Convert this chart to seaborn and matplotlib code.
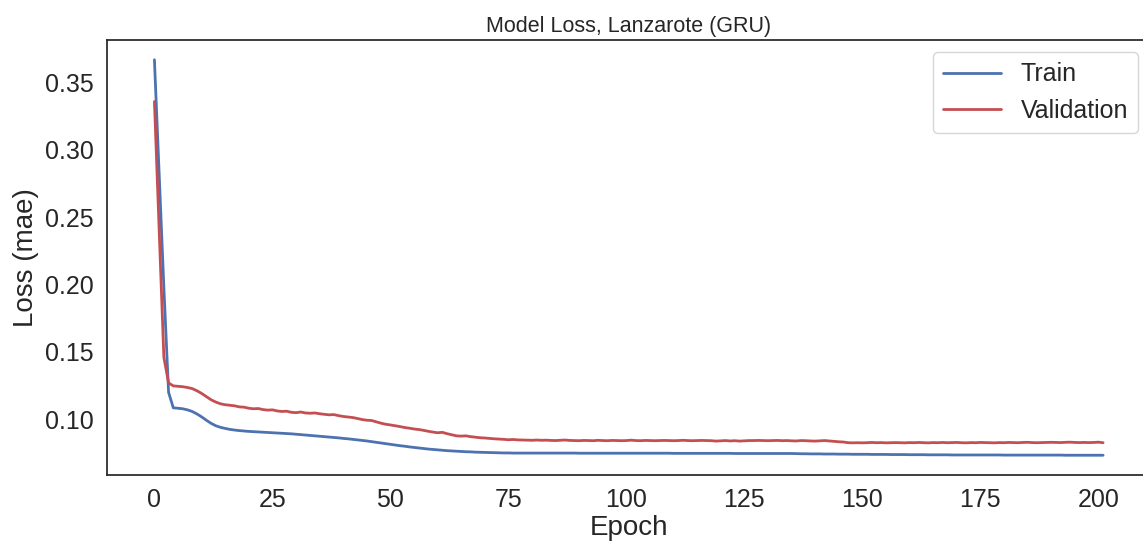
import numpy as np
import pandas as pd
import matplotlib
matplotlib.use("Agg")
import matplotlib.pyplot as plt
import seaborn as sns

# Per-epoch mean absolute error for the GRU model (Lanzarote)
train_loss = [
    0.3670, 0.2830, 0.1980, 0.1200, 0.1085, 0.1082, 0.1078, 0.1070, 0.1058, 0.1040,
    0.1018, 0.0993, 0.0970, 0.0952, 0.0940, 0.0932, 0.0925, 0.0920, 0.0916, 0.0913,
    0.0910, 0.0908, 0.0906, 0.0904, 0.0902, 0.0900, 0.0898, 0.0896, 0.0894, 0.0892,
    0.0889, 0.0886, 0.0883, 0.0880, 0.0877, 0.0874, 0.0871, 0.0868, 0.0865, 0.0862,
    0.0858, 0.0855, 0.0851, 0.0847, 0.0843, 0.0839, 0.0834, 0.0829, 0.0824, 0.0819,
    0.0814, 0.0809, 0.0804, 0.0800, 0.0795, 0.0791, 0.0787, 0.0783, 0.0779, 0.0776,
    0.0773, 0.0770, 0.0767, 0.0765, 0.0763, 0.0761, 0.0759, 0.0758, 0.0756, 0.0755,
    0.0754, 0.0753, 0.0752, 0.0751, 0.0750, 0.0750, 0.0749, 0.0749, 0.0749, 0.0749,
    0.0749, 0.0749, 0.0749, 0.0749, 0.0749, 0.0749, 0.0749, 0.0749, 0.0749, 0.0749,
    0.0748, 0.0748, 0.0748, 0.0748, 0.0748, 0.0748, 0.0748, 0.0748, 0.0748, 0.0748,
    0.0748, 0.0748, 0.0748, 0.0748, 0.0748, 0.0748, 0.0748, 0.0748, 0.0748, 0.0748,
    0.0747, 0.0747, 0.0747, 0.0747, 0.0747, 0.0747, 0.0747, 0.0747, 0.0747, 0.0747,
    0.0747, 0.0747, 0.0747, 0.0746, 0.0746, 0.0746, 0.0746, 0.0746, 0.0746, 0.0746,
    0.0746, 0.0746, 0.0746, 0.0746, 0.0746, 0.0746, 0.0745, 0.0744, 0.0744, 0.0743,
    0.0743, 0.0743, 0.0742, 0.0742, 0.0742, 0.0741, 0.0741, 0.0741, 0.0740, 0.0740,
    0.0740, 0.0740, 0.0739, 0.0739, 0.0739, 0.0739, 0.0738, 0.0738, 0.0738, 0.0738,
    0.0737, 0.0737, 0.0737, 0.0737, 0.0736, 0.0736, 0.0736, 0.0736, 0.0736, 0.0735,
    0.0735, 0.0735, 0.0735, 0.0735, 0.0735, 0.0735, 0.0735, 0.0735, 0.0735, 0.0735,
    0.0734, 0.0734, 0.0734, 0.0734, 0.0734, 0.0734, 0.0734, 0.0734, 0.0734, 0.0734,
    0.0734, 0.0734, 0.0734, 0.0733, 0.0733, 0.0733, 0.0733, 0.0733, 0.0733, 0.0733,
    0.0733, 0.0733,
]

val_loss = [
    0.3360, 0.2400, 0.1460, 0.1270, 0.1248, 0.1245, 0.1242, 0.1236, 0.1228, 0.1212,
    0.1192, 0.1168, 0.1145, 0.1128, 0.1115, 0.1108, 0.1104, 0.1100, 0.1092, 0.1090,
    0.1082, 0.1078, 0.1080, 0.1072, 0.1068, 0.1070, 0.1062, 0.1058, 0.1060, 0.1052,
    0.1049, 0.1054, 0.1047, 0.1045, 0.1047, 0.1041, 0.1037, 0.1033, 0.1035, 0.1027,
    0.1021, 0.1017, 0.1013, 0.1006, 0.0998, 0.0993, 0.0991, 0.0981, 0.0971, 0.0963,
    0.0958, 0.0952, 0.0946, 0.0939, 0.0934, 0.0928, 0.0924, 0.0918, 0.0911, 0.0905,
    0.0900, 0.0903, 0.0893, 0.0885, 0.0877, 0.0875, 0.0877, 0.0871, 0.0867, 0.0863,
    0.0861, 0.0858, 0.0855, 0.0853, 0.0851, 0.0848, 0.0850, 0.0847, 0.0846, 0.0845,
    0.0844, 0.0846, 0.0844, 0.0845, 0.0843, 0.0842, 0.0844, 0.0846, 0.0843, 0.0842,
    0.0841, 0.0843, 0.0842, 0.0841, 0.0844, 0.0842, 0.0841, 0.0843, 0.0842, 0.0841,
    0.0842, 0.0845, 0.0842, 0.0841, 0.0843, 0.0842, 0.0841, 0.0842, 0.0843, 0.0842,
    0.0841, 0.0842, 0.0844, 0.0842, 0.0841, 0.0842, 0.0843, 0.0842, 0.0841, 0.0838,
    0.0840, 0.0842, 0.0839, 0.0841, 0.0838, 0.0840, 0.0842, 0.0842, 0.0843, 0.0842,
    0.0841, 0.0842, 0.0843, 0.0841, 0.0842, 0.0840, 0.0839, 0.0842, 0.0841, 0.0839,
    0.0838, 0.0840, 0.0842, 0.0839, 0.0836, 0.0833, 0.0831, 0.0826, 0.0825, 0.0826,
    0.0825, 0.0826, 0.0828, 0.0826, 0.0827, 0.0825, 0.0826, 0.0827, 0.0826, 0.0825,
    0.0827, 0.0826, 0.0828, 0.0826, 0.0825, 0.0827, 0.0826, 0.0828, 0.0826, 0.0827,
    0.0828, 0.0826, 0.0825, 0.0827, 0.0826, 0.0828, 0.0827, 0.0826, 0.0825, 0.0827,
    0.0826, 0.0828, 0.0827, 0.0826, 0.0828, 0.0829, 0.0827, 0.0826, 0.0827, 0.0828,
    0.0829, 0.0828, 0.0827, 0.0829, 0.0830, 0.0828, 0.0827, 0.0828, 0.0827, 0.0828,
    0.0830, 0.0826,
]

title = "Model Loss, Lanzarote (GRU)"
x_label = "Epoch"
y_label = "Loss (mae)"
series_names = ["Train", "Validation"]

sns.set_theme(style="white", context="notebook", color_codes=True)
plt.rcParams["font.family"] = ["Liberation Sans", "DejaVu Sans"]

epochs = np.arange(len(train_loss))
history = pd.DataFrame({"epoch": epochs, "Train": train_loss, "Validation": val_loss})

fig = plt.figure(figsize=(11.43, 5.42), dpi=100)
ax = fig.add_axes([0.0936, 0.1236, 0.913, 0.8026])

sns.lineplot(data=history, x="epoch", y="Train", color="b", label=series_names[0], ax=ax, linewidth=2)
sns.lineplot(data=history, x="epoch", y="Validation", color="r", label=series_names[1], ax=ax, linewidth=2)

ax.set_title(title, fontsize=15.5)
ax.set_xlabel(x_label, fontsize=20, labelpad=2)
ax.set_ylabel(y_label, fontsize=20)
ax.tick_params(axis="both", labelsize=18)
ax.legend(loc="upper right", fontsize=18, handlelength=2.3)

fig.savefig("out.png", dpi=100)
